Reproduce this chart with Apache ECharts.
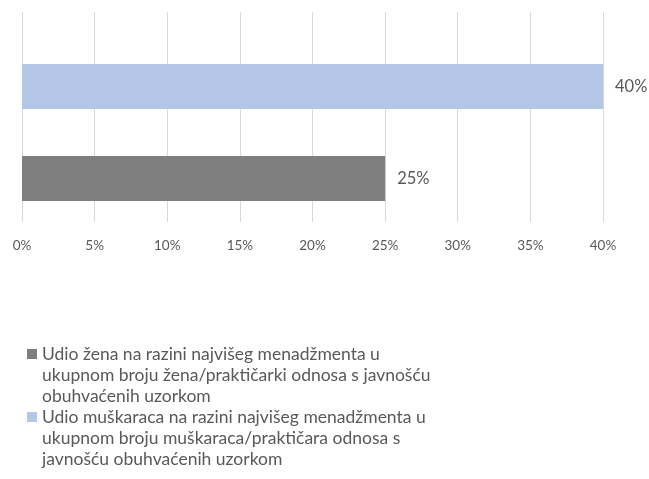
<!DOCTYPE html>
<html>
<head>
<meta charset="utf-8">
<script src="https://cdn.jsdelivr.net/npm/echarts@6/dist/echarts.min.js"></script>
<style>
  html, body { margin: 0; padding: 0; background: #fff; }
  #chart { width: 649px; height: 479px; }
</style>
</head>
<body>
<div id="chart"></div>
<script>
// podaci
const seriesNames = [
  'Udio žena na razini najvišeg menadžmenta u ukupnom broju žena/praktičarki odnosa s javnošću obuhvaćenih uzorkom',
  'Udio muškaraca na razini najvišeg menadžmenta u ukupnom broju muškaraca/praktičara odnosa s javnošću obuhvaćenih uzorkom'
]
const legendLines = [
  'Udio žena na razini najvišeg menadžmenta u\nukupnom broju žena/praktičarki odnosa s javnošću\nobuhvaćenih uzorkom',
  'Udio muškaraca na razini najvišeg menadžmenta u\nukupnom broju muškaraca/praktičara odnosa s\njavnošću obuhvaćenih uzorkom'
]
const womenValues = [0.25]
const menValues = [0.40]
const colors = ['#7f7f7f', '#b4c7e7']
const tickMax = 0.4
const tickStep = 0.05

const FONT = 'Lato, "Liberation Sans", sans-serif'
const pct = v => Math.round(v * 100) + '%'

const chart = echarts.init(document.getElementById('chart'))

// ikona legende: kvadrat uz prvi red teksta
const legendIcon = 'path://M0,0L0.01,0L0.01,0.01Z M0,5H10V15H0Z M0,62.99L0.01,62.99L0.01,63Z'

const barLabel = {
  show: true,
  position: 'right',
  distance: 12,
  formatter: p => pct(p.value),
  color: '#595959',
  fontSize: 16.5,
  fontFamily: FONT
}

const option = {
  backgroundColor: '#fff',
  animation: false,
  grid: [
    { left: 22, right: 46, top: 12, height: 210 },
    { left: 22, right: 46, top: 62, height: 141 }
  ],
  xAxis: [
    {
      gridIndex: 0,
      type: 'value',
      min: 0,
      max: tickMax,
      interval: tickStep,
      axisLine: { show: false },
      axisTick: { show: false },
      splitLine: { lineStyle: { color: '#d9d9d9', width: 1 } },
      axisLabel: { formatter: pct, color: '#595959', fontSize: 13.5, fontFamily: FONT, margin: 17 }
    },
    {
      gridIndex: 1,
      type: 'value',
      min: 0,
      max: tickMax,
      show: false
    }
  ],
  yAxis: [
    { gridIndex: 0, type: 'category', data: [''], show: false },
    { gridIndex: 1, type: 'category', data: [''], show: false }
  ],
  legend: {
    orient: 'vertical',
    left: 22,
    top: 339,
    itemWidth: 10,
    itemHeight: 63,
    itemGap: 0,
    icon: legendIcon,
    data: seriesNames,
    formatter: name => legendLines[seriesNames.indexOf(name)],
    textStyle: { color: '#595959', fontSize: 17.5, lineHeight: 21, fontFamily: FONT }
  },
  // prva serija crta se gore, pa muškarci idu prvi
  series: [
    {
      name: seriesNames[1],
      type: 'bar',
      xAxisIndex: 1,
      yAxisIndex: 1,
      data: menValues,
      barWidth: 45,
      barGap: '104%',
      itemStyle: { color: colors[1] },
      label: barLabel
    },
    {
      name: seriesNames[0],
      type: 'bar',
      xAxisIndex: 1,
      yAxisIndex: 1,
      data: womenValues,
      barWidth: 45,
      itemStyle: { color: colors[0] },
      label: barLabel
    }
  ]
}

chart.setOption(option)
</script>
</body>
</html>
